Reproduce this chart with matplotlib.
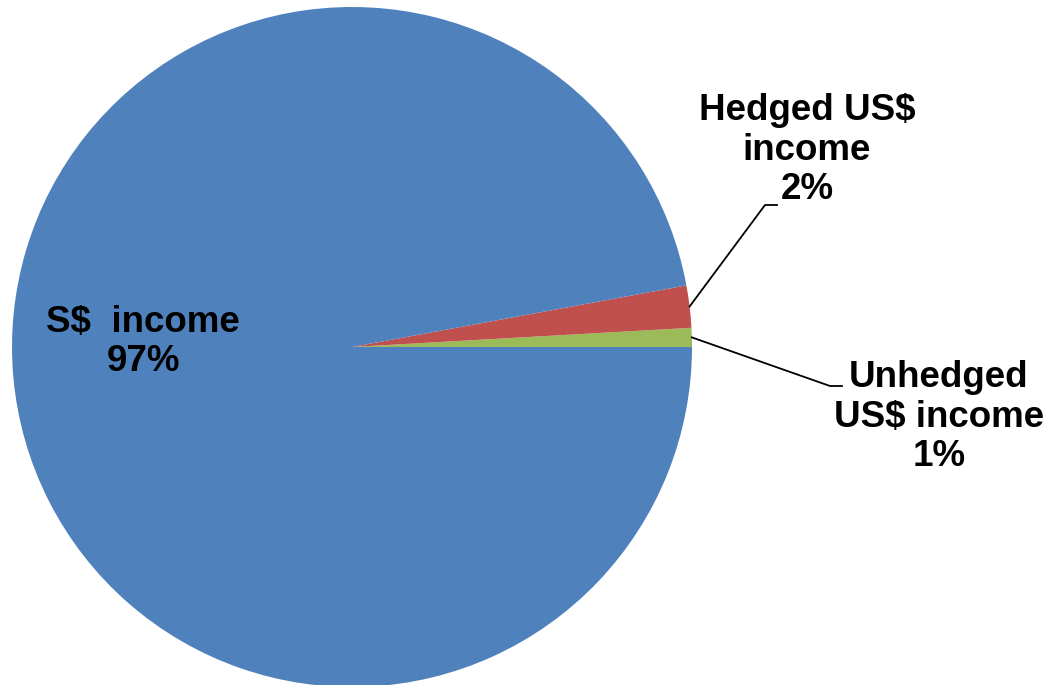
import matplotlib.pyplot as plt
import numpy as np

plt.rcParams['font.family'] = ['Liberation Sans', 'DejaVu Sans']

# data (order: counterclockwise from 3 o'clock)
labels = ['Unhedged\nUS$ income', 'Hedged US$\nincome', 'S$  income']
values = [0.9, 2.0, 97.1]
colors = ['#9BBB59', '#C0504D', '#4F81BD']

W, H = 1050, 685
cx, cy, r = 352, H - 347, 340

fig = plt.figure(figsize=(10.5, 6.85), dpi=100)
ax = fig.add_axes([0, 0, 1, 1])
wedges, _ = ax.pie(values, colors=colors, startangle=0, counterclock=True,
                   center=(cx, cy), radius=r,
                   wedgeprops={'linewidth': 0})
ax.set_xlim(0, W)
ax.set_ylim(0, H)
ax.set_aspect('equal')
ax.axis('off')

pct = [f'{round(v)}%' for v in values]
fs = 26.5

# S$ income label inside the pie
ax.text(143, H - 342, labels[2] + '\n' + pct[2], ha='center', va='center',
        fontsize=fs, fontweight='bold', multialignment='center', linespacing=1.15)

# outside labels with leader lines: (elbow, elbow end, text centre)
outside = {
    1: ((765, H - 205), (777, H - 205), (807, H - 150)),
    0: ((830, H - 386), (842, H - 386), (939, H - 417)),
}
for i, (elbow, end, txt) in outside.items():
    w = wedges[i]
    mid = np.deg2rad((w.theta1 + w.theta2) / 2)
    sx, sy = cx + r * np.cos(mid), cy + r * np.sin(mid)
    ax.plot([sx, elbow[0], end[0]], [sy, elbow[1], end[1]], color='black', lw=1.3)
    ax.text(txt[0], txt[1], labels[i] + '\n' + pct[i], ha='center', va='center',
            fontsize=fs, fontweight='bold', multialignment='center', linespacing=1.15)

fig.savefig('out.png', dpi=100)
